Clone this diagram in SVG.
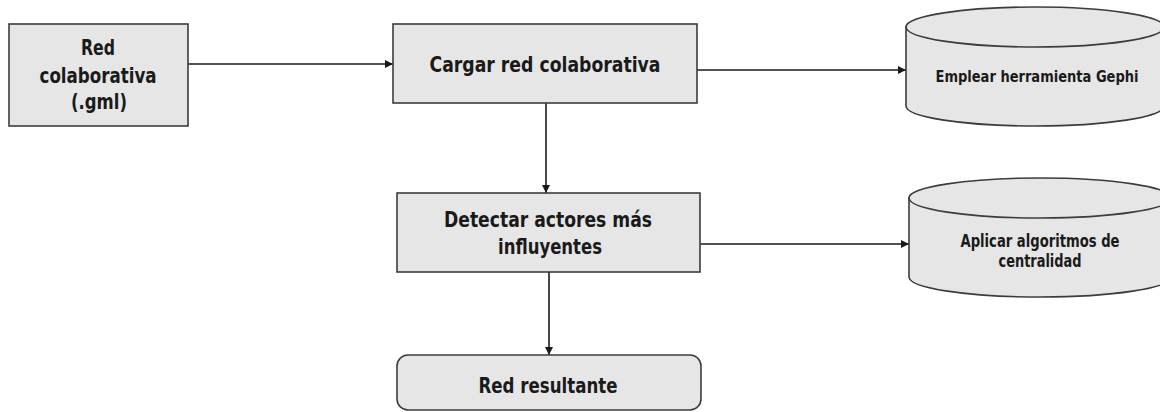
<svg xmlns="http://www.w3.org/2000/svg" width="1160" height="412" viewBox="0 0 1160 412">
<style>
.box{fill:#e6e6e6;stroke:#3c3c3c;stroke-width:1.6}
.t{font-family:"DejaVu Sans Condensed","DejaVu Sans","Liberation Sans",sans-serif;font-weight:bold;fill:#1a1a1a;text-anchor:middle}
.c{fill:none;stroke:#1a1a1a;stroke-width:1.6}
</style>
<defs>
<marker id="ah" viewBox="0 0 10 10" refX="10" refY="5" markerWidth="5" markerHeight="5" orient="auto" markerUnits="strokeWidth">
<path d="M0,0 L10,5 L0,10 z" fill="#1a1a1a"/>
</marker>
</defs>
<rect width="1160" height="412" fill="#ffffff"/>
<g id="connectors">
<line class="c" x1="188" y1="64" x2="393" y2="64" marker-end="url(#ah)"/>
<line class="c" x1="697" y1="70" x2="906" y2="70" marker-end="url(#ah)"/>
<line class="c" x1="546" y1="103" x2="546" y2="193" marker-end="url(#ah)"/>
<line class="c" x1="700" y1="244" x2="909" y2="244" marker-end="url(#ah)"/>
<line class="c" x1="549" y1="272" x2="549" y2="355" marker-end="url(#ah)"/>
</g>
<g id="n1">
<rect class="box" x="9" y="24" width="179" height="102"/>
<text class="t" font-size="22" x="98" y="55" textLength="34" lengthAdjust="spacingAndGlyphs">Red</text>
<text class="t" font-size="22" x="98" y="83" textLength="117" lengthAdjust="spacingAndGlyphs">colaborativa</text>
<text class="t" font-size="22" x="99" y="109" textLength="56" lengthAdjust="spacingAndGlyphs">(.gml)</text>
</g>
<g id="n2">
<rect class="box" x="393" y="24" width="304" height="79"/>
<text class="t" font-size="22" x="545" y="72" textLength="231" lengthAdjust="spacingAndGlyphs">Cargar red colaborativa</text>
</g>
<g id="n3">
<path class="box" d="M906,27 L906,106 A129,20 0 0 0 1164,106 L1164,27 Z"/>
<ellipse class="box" cx="1035" cy="27" rx="129" ry="20"/>
<text class="t" font-size="16" x="1037" y="82" textLength="203" lengthAdjust="spacingAndGlyphs">Emplear herramienta Gephi</text>
</g>
<g id="n4">
<rect class="box" x="397" y="193" width="303" height="79"/>
<text class="t" font-size="21" x="548" y="227" textLength="208" lengthAdjust="spacingAndGlyphs">Detectar actores más</text>
<text class="t" font-size="21" x="550" y="254" textLength="104" lengthAdjust="spacingAndGlyphs">influyentes</text>
</g>
<g id="n5">
<path class="box" d="M909,198 L909,277 A131,20 0 0 0 1171,277 L1171,198 Z"/>
<ellipse class="box" cx="1040" cy="198" rx="131" ry="20"/>
<text class="t" font-size="17" x="1040" y="247" textLength="159" lengthAdjust="spacingAndGlyphs">Aplicar algoritmos de</text>
<text class="t" font-size="17" x="1040" y="267" textLength="83" lengthAdjust="spacingAndGlyphs">centralidad</text>
</g>
<g id="n6">
<rect class="box" x="397" y="355" width="304" height="55" rx="11" ry="11"/>
<text class="t" font-size="22" x="548" y="393" textLength="139" lengthAdjust="spacingAndGlyphs">Red resultante</text>
</g>
</svg>
